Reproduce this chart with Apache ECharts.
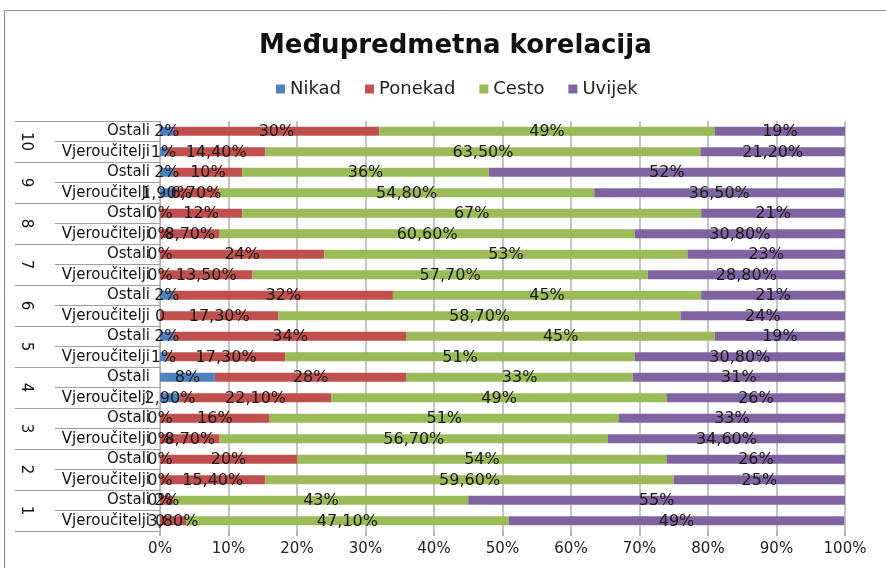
<!DOCTYPE html>
<html><head><meta charset="utf-8">
<script src="https://cdn.jsdelivr.net/npm/echarts@6/dist/echarts.min.js"></script>
<style>html,body{margin:0;padding:0;background:#fff}#c{width:886px;height:568px}</style>
</head><body><div id="c"></div>
<script>
// bottom-to-top order: group 1 (Vjeroučitelji, Ostali), group 2, ...
const groups = ['1','2','3','4','5','6','7','8','9','10'];
const subLabels = ['Vjeroučitelji','Ostali'];
const seriesNames = ['Nikad','Ponekad','Cesto','Uvijek'];
const nikad   = [0,0, 0,0, 0,0, 2.9,8, 1,2, 0,2, 0,0, 0,0, 1.9,2, 1,2];
const ponekad = [3.8,2, 15.4,20, 8.7,16, 22.1,28, 17.3,34, 17.3,32, 13.5,24, 8.7,12, 6.7,10, 14.4,30];
const cesto   = [47.1,43, 59.6,54, 56.7,51, 49,33, 51,45, 58.7,45, 57.7,53, 60.6,67, 54.8,36, 63.5,49];
const uvijek  = [49,55, 25,26, 34.6,33, 26,31, 30.8,19, 24,21, 28.8,23, 30.8,21, 36.5,52, 21.2,19];
const xTicks = [0,10,20,30,40,50,60,70,80,90,100];
const plainZero = ['6|Vjeroučitelji','1|Vjeroučitelji'];

const cats = [];
groups.forEach(g => subLabels.forEach(s => cats.push(g + '|' + s)));
const colors = ['#4F81BD','#C0504D','#9BBB59','#8064A2'];
const values = [nikad, ponekad, cesto, uvijek];
const FONT = 'DejaVu Sans';

function fmt(p){
  const v = p.value;
  if (v === 0 && plainZero.indexOf(p.name) >= 0) return '0';
  return (Number.isInteger(v) ? String(v) : v.toFixed(2).replace('.', ',')) + '%';
}

const chart = echarts.init(document.getElementById('c'), null, {renderer:'canvas'});
chart.setOption({
  animation:false,
  color: colors,
  graphic:[{type:'rect', shape:{x:4.5,y:10.5,width:900,height:600}, style:{fill:'none', stroke:'#8a8a8a', lineWidth:1}, silent:true}],
  title:{text:'Međupredmetna korelacija', left:254, top:28,
    textStyle:{fontFamily:FONT, fontWeight:'bold', fontSize:26, color:'#111'}},
  legend:{data:seriesNames, top:75, left:271, icon:'rect', itemWidth:9, itemHeight:9, itemGap:24,
    textStyle:{fontFamily:FONT, fontSize:18, color:'#222'}},
  grid:{left:160, right:41, top:121, bottom:37, containLabel:false},
  xAxis:{type:'value', min:0, max:100, interval:10,
    axisLabel:{formatter:'{value}%', fontFamily:FONT, fontSize:15, color:'#222', margin:11},
    axisLine:{show:false},
    axisTick:{show:true, length:5, lineStyle:{color:'#b5b5b5', width:2}},
    splitLine:{show:true, lineStyle:{color:'#c4c4c4', width:2}}},
  yAxis:[
    {type:'category', data:cats, position:'left',
      axisLine:{show:true, lineStyle:{color:'#b0b0b0', width:1}},
      axisTick:{show:true, length:105, lineStyle:{color:'#a0a0a0', width:1}},
      axisLabel:{formatter:v => v.split('|')[1], fontFamily:FONT, fontSize:15, color:'#111', margin:10, interval:0}},
    {type:'category', data:groups, position:'left', offset:0,
      axisLine:{show:false},
      axisTick:{show:true, length:145, lineStyle:{color:'#a0a0a0', width:1}},
      axisLabel:{fontFamily:FONT, fontSize:15, color:'#111', margin:127, rotate:-90, interval:0}}
  ],
  series: seriesNames.map((n,i) => ({
    name:n, type:'bar', stack:'total', yAxisIndex:0, barWidth:9,
    data: values[i],
    itemStyle:{color:colors[i]},
    label:{show:true, position:'inside', offset:[0,1], formatter:fmt, fontFamily:FONT, fontSize:16,
      color:'#1a1a1a', textBorderWidth:0}
  }))
});
</script></body></html>
